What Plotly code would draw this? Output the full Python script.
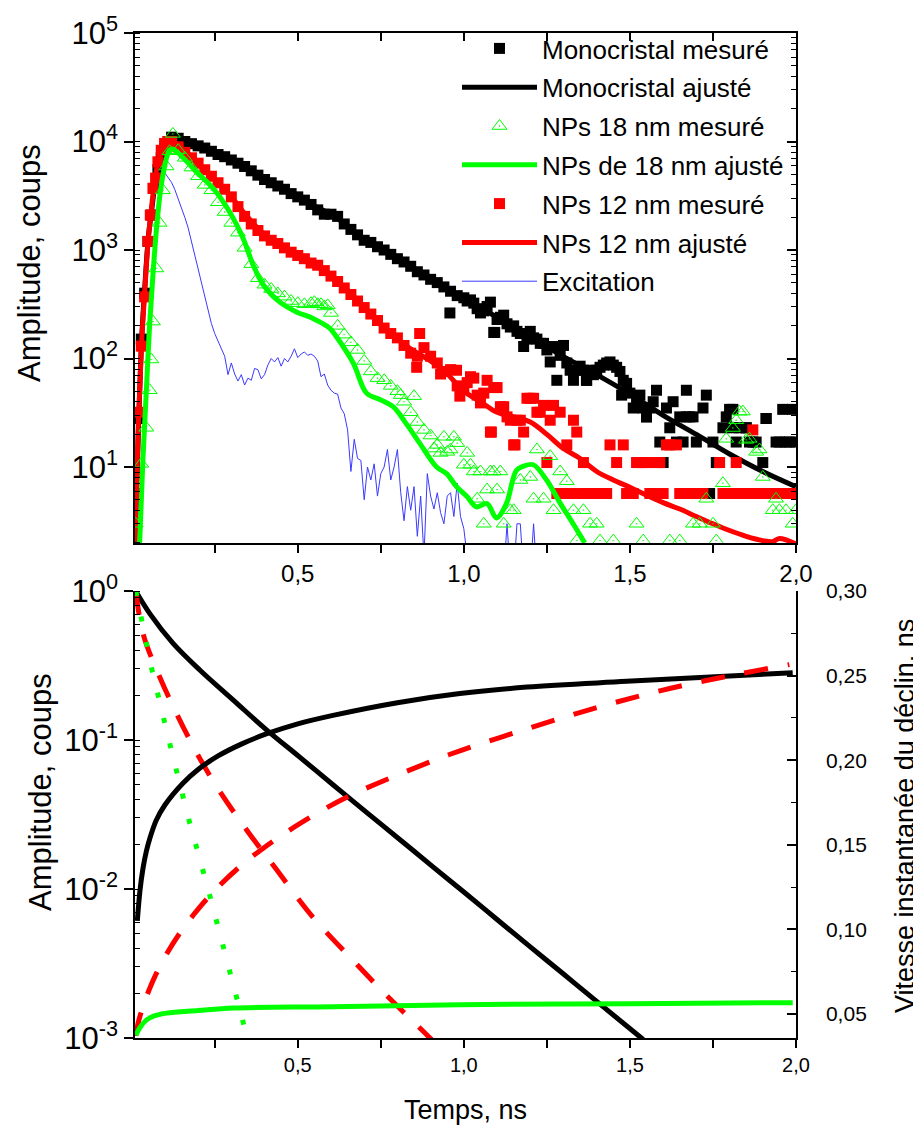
import plotly.graph_objects as go

FONT = "Liberation Sans, Arial, sans-serif"

# ---------------- TOP PANEL DATA (counts) ----------------
# rising edge samples
mono_rise_t = [0.014, 0.021, 0.029, 0.039, 0.049, 0.059, 0.066, 0.079, 0.089, 0.10, 0.11]
mono_rise_y = [5.7, 28, 151, 400, 1200, 2100, 3700, 5500, 7100, 8700, 10000]
np12_rise_t = [0.012, 0.021, 0.029, 0.039, 0.049, 0.056, 0.064, 0.072, 0.079, 0.089, 0.099, 0.109]
np12_rise_y = [5.3, 32, 130, 370, 1200, 2100, 3700, 4600, 6500, 8300, 9600, 10000]
np18_rise_t = [0.012, 0.029, 0.044, 0.054, 0.059, 0.064, 0.074, 0.084, 0.094, 0.105, 0.114, 0.124]
np18_rise_y = [3.0, 10.7, 23, 51, 98, 219, 676, 1778, 3548, 5888, 8128, 11749]

# main decay, t = 0.12 ... 0.98 (step 0.02)
main_t = [round(0.12 + 0.02 * i, 2) for i in range(44)]
mono_main_y = [10965, 10715, 10000, 9550, 9120, 8710, 8128, 7586, 7244, 6761,
               6310, 5888, 5370, 4898, 4467, 4169, 3890, 3631, 3311, 3090,
               2884, 2630, 2344, 2138, 2138, 2042, 1738, 1549, 1380, 1230,
               1175, 1072, 1000, 912, 832, 776, 708, 631, 589, 537,
               501, 457, 417, 380]
np12_main_y = [10000, 8913, 7943, 7079, 6310, 5495, 4786, 4169, 3631, 3090,
               2512, 2042, 1738, 1514, 1349, 1230, 1148, 1047, 955, 891,
               832, 759, 724, 646, 575, 513, 447, 389, 339, 295,
               257, 224, 191, 170, 155, 132, 112, 105, 126, 105,
               91, 76, 79, 56]
np18_main_y = [None, 8318, 7079, 5754, 4786, 3981, 3548, 2754, 2239, 1778,
               1445, 1047, 741, 550, 479, 437, 398, 372, 339, 324,
               316, 324, 316, 302, 263, 200, 166, 141, 120, 95,
               76, 66, 63, 56, 50, 40, 32, 26, 22, 19.5,
               16, 19, 14.5, 16.6]

# tail, t = 1.00 ... 2.00 (step 0.01)
tail_t = [round(1.0 + 0.01 * i, 2) for i in range(101)]
mono_tail_y = [363, 339, 347, 324, 288, 263, 275, 302, 331, 174,
               229, 240, 251, 209, 195, 200, 178, 170, 129, 151,
               178, 155, 151, 138, 138, 120, 93, 129, 63, 107,
               132, 91, 78, 63, 78, 85, 78, 63, 78, 71,
               78, 83, 87, 91, 93, 87, 83, 76, 63, 59,
               48, 35, 40, 46, 35, 29, 35, 40, 51, 17,
               11, 35, 23, 40, 17, 29, 17, 51, 29, 29,
               17, 5.7, 35, 46, 5.7, 17, 11, None, 23, 29,
               34, 23, 17, 23, 5.7, 23, 17, 17, 17, None,
               11, 28, 5.7, None, 17, 17, 34, 17, 17, 34, 17]
np12_tail_y = [55, 60, 68, 66, 46, 39, 48, 63, 21, 54,
               54, 36, 36, 29, 27, 16, 27, 27, 21, 43,
               43, 43, 32, 32, 37, 11, 27, 37, 5.7, 32,
               5.7, 16, 5.7, 27, 21, 5.7, 11, 5.7, 5.7, 5.7,
               5.7, 5.7, 5.7, 5.7, 16, None, 11, None, 16, 5.7,
               5.7, 5.7, 11, 11, 11, 11, 5.7, 5.7, 11, 11,
               5.7, 16, 16, None, 16, 5.7, 5.7, 5.7, 5.7, 5.7,
               5.7, 5.7, 5.7, None, None, None, None, 11, 5.7, 5.7,
               5.7, 5.7, 11, 5.7, 5.7, 5.7, 5.7, 22, 5.7, 5.7,
               5.7, 5.7, 5.7, 5.7, 5.7, 5.7, 5.7, 5.7, 5.7, 5.7, None]
np18_tail_y = [10.5, 13.5, 10.5, 9.1, 5.1, 9.1, 3.0, 6.2, 9.1, 9.1,
               6.2, 9.1, 3.0, None, 4.0, 4.0, None, 7.6, None, None,
               8.1, 5.1, 14.5, None, 5.1, None, 12.6, 4.0, None, 9.1,
               None, 7.4, None, 4.0, 2.1, None, 4.0, None, 3.0, None,
               3.0, 2.1, None, None, None, 2.1, None, None, None, None,
               None, None, 3.0, None, 2.1, None, None, None, None, None,
               None, None, 2.1, None, None, 2.1, None, None, None, 3.0,
               None, 3.0, None, 5.1, None, 3.0, 2.1, None, 7.1, 18.2,
               None, 22.9, 27, 32.4, 32.4, 17.8, 18.2, None, 13.8, 14.5,
               8.1, None, None, 4.0, 5.1, 4.0, None, 4.0, None, 3.0, 4.0]

# additional scattered points
mono_extra_t = [0.958, 1.093, 1.369, 1.475, 1.55, 1.67, 1.81, 1.85, 1.91]
mono_extra_y = [263, 174, 63, 46, 29, 29, 34, 23, 28]
np12_extra_t = [0.858, 0.867, 0.93, 0.978, 0.988, 1.083, 1.154]
np12_extra_y = [83, 170, 72, 78, 45, 21, 16]
np18_extra_t = [0.55, 0.57, 0.59, 0.81, 0.85, 0.91, 0.93, 0.95, 0.97]
np18_extra_y = [331, 316, 309, 46, 45, 14.8, 13.5, 13.8, 19]

# fitted curves
mono_fit_t = [0.01, 0.02, 0.03, 0.04, 0.05, 0.06, 0.07, 0.08, 0.09, 0.10, 0.11, 0.12, 0.14, 0.17,
              0.2, 0.25, 0.3, 0.35, 0.4, 0.45, 0.5, 0.55, 0.6, 0.65, 0.7, 0.75, 0.8, 0.85, 0.9,
              0.95, 1.0, 1.1, 1.2, 1.3, 1.4, 1.5, 1.6, 1.7, 1.8, 1.9, 2.0]
mono_fit_y = [2, 20, 150, 480, 1300, 2300, 4000, 5800, 7400, 8900, 10000, 10700, 10500, 9800,
              9100, 7900, 6760, 5600, 4500, 3760, 3100, 2550, 2140, 1660, 1260, 1030, 830, 680, 550,
              440, 355, 240, 158, 104, 71, 47, 30, 20, 13.2, 9.1, 6.6]
np12_fit_t = [0.01, 0.02, 0.03, 0.04, 0.05, 0.06, 0.07, 0.08, 0.09, 0.10, 0.12, 0.15, 0.2, 0.25,
              0.3, 0.35, 0.4, 0.45, 0.5, 0.55, 0.6, 0.65, 0.7, 0.75, 0.8, 0.85, 0.9, 0.95, 1.0,
              1.05, 1.1, 1.15, 1.2, 1.25, 1.3, 1.35, 1.4, 1.45, 1.5, 1.55, 1.6, 1.65, 1.7, 1.75,
              1.8, 1.85, 1.9, 1.93, 1.95, 2.0]
np12_fit_y = [2.0, 25, 141, 447, 1259, 2512, 4467, 6607, 8511, 9550, 10000, 8710, 6310, 4467,
              3090, 1995, 1380, 1096, 891, 741, 575, 427, 295, 204, 151, 117, 95, 72, 50,
              40, 32, 29, 26, 20, 14.8, 12, 9.1, 7.6, 6.5, 5.5, 4.7, 4.1, 3.5, 3.0,
              2.6, 2.3, 2.1, 2.05, 2.2, 1.95]
np18_fit_t = [0.024, 0.034, 0.044, 0.054, 0.064, 0.074, 0.084, 0.094, 0.105, 0.114, 0.125, 0.155,
              0.195, 0.245, 0.295, 0.335, 0.366, 0.396, 0.446, 0.496, 0.546, 0.596, 0.617, 0.667,
              0.707, 0.747, 0.787, 0.827, 0.867, 0.918, 0.948, 0.978, 1.008, 1.038, 1.07, 1.098,
              1.128, 1.158, 1.18, 1.209, 1.249, 1.289, 1.329, 1.364]
np18_fit_y = [2.0, 12, 49, 204, 589, 1479, 3020, 4898, 7079, 8318, 8511, 7079,
              5248, 3715, 2239, 1288, 724, 479, 331, 269, 234, 191, 158, 91,
              48, 42, 36, 25, 16.6, 10, 8.7, 6.6, 5.4, 4.3, 4.6, 3.4,
              4.6, 9.3, 10.2, 10.5, 7.6, 4.7, 3.0, 2.0]

# excitation pulse, t = 0.01 ... 1.22 (step 0.01)
exc_t = [round(0.01 * (i + 1), 2) for i in range(122)]
exc_y = [2.5, 25, 160, 500, 1260, 2240, 3550, 4790, 5250, 5130,
         4680, 4200, 3600, 3000, 2500, 2000, 1600, 1200, 900, 660,
         500, 360, 270, 210, 170, 145, 125, 105, 71, 91,
         72, 62, 71, 57, 66, 63, 81, 79, 65, 71,
         87, 100, 93, 102, 85, 100, 93, 105, 123, 102,
         110, 115, 107, 110, 105, 95, 68, 72, 57, 51,
         48, 47, 35, 31, 22, 9.1, 18, 12, 11.5, 5.0,
         10, 7.6, 10.7, 5.4, 8.7, 10, 14.5, 7.6, 10, 14.5,
         5.8, 3.2, 6.6, 4.0, 6.6, 2.3, 5.4, 1.5, 8.7, 5.4,
         4.1, 5.8, 3.8, 3.0, 5.4, 5.8, 3.5, 7.1, 3.5, 2.7,
         1.5, 1, 1, 1, 1, 1, 1, 1, 1, 1,
         1, 1, 3.0, 1, 1, 3.0, 3.0, 1, 1, 1,
         3.0, 1]

top_tickvals = [10, 100, 1000, 10000, 100000]
top_ticktext = ["10<sup>1</sup>", "10<sup>2</sup>", "10<sup>3</sup>", "10<sup>4</sup>", "10<sup>5</sup>"]

# ---------------- BOTTOM PANEL DATA ----------------
mono_amp_t = [0.012, 0.054, 0.124, 0.205, 0.305, 0.405, 0.506, 0.606, 0.707, 0.807, 0.908, 1.0,
              1.1, 1.2, 1.3, 1.4, 1.54]
mono_amp_y = [1.0, 0.708, 0.447, 0.295, 0.186, 0.1175, 0.0767, 0.0501, 0.0327, 0.0215, 0.01403,
              0.00955, 0.00624, 0.00409, 0.00269, 0.00176, 0.000977]
np12_amp_t = [0.0125, 0.034, 0.084, 0.175, 0.255, 0.345, 0.436, 0.546, 0.667, 0.757, 0.898, 0.92]
np12_amp_y = [1.0, 0.52, 0.266, 0.1, 0.049, 0.0251, 0.0135, 0.00646, 0.00331, 0.00204, 0.001, 0.00089]
np18_amp_t = [0.0125, 0.058, 0.112, 0.169, 0.23, 0.289, 0.348]
np18_amp_y = [1.0, 0.316, 0.1, 0.0309, 0.01, 0.00316, 0.001]

mono_rate_t = [0.017, 0.025, 0.034, 0.044, 0.055, 0.074, 0.1, 0.155, 0.2, 0.26, 0.33, 0.405, 0.5,
               0.606, 0.8, 0.988, 1.19, 1.49, 1.99]
mono_rate_y = [0.105, 0.123, 0.136, 0.146, 0.154, 0.1645, 0.1735, 0.1865, 0.1945, 0.2025, 0.2095,
               0.2155, 0.2215, 0.2265, 0.234, 0.2394, 0.2432, 0.2466, 0.2517]
np12_rate_t = [0.012, 0.019, 0.034, 0.044, 0.069, 0.104, 0.144, 0.2, 0.255, 0.325, 0.386, 0.506,
               0.657, 0.918, 0.988, 1.189, 1.39, 1.59, 1.79, 1.98]
np12_rate_y = [0.037, 0.0443, 0.0545, 0.060, 0.0718, 0.085, 0.0975, 0.112, 0.124, 0.137, 0.1465,
               0.1625, 0.179, 0.2005, 0.2055, 0.2185, 0.2305, 0.241, 0.2495, 0.2565]
np18_rate_t = [0.0125, 0.025, 0.045, 0.07, 0.105, 0.2, 0.305, 0.606, 0.988, 1.5, 1.99]
np18_rate_y = [0.0374, 0.042, 0.0465, 0.049, 0.0505, 0.052, 0.0535, 0.0543, 0.0555, 0.0561, 0.0567]

bot_tickvals = [1, 0.1, 0.01, 0.001]
bot_ticktext = ["10<sup>0</sup>", "10<sup>-1</sup>", "10<sup>-2</sup>", "10<sup>-3</sup>"]

# ---------------- FIGURE ----------------
BLACK, RED, GREEN, BLUE = "#000000", "#ff0000", "#00ff00", "#3a3aff"

fig = go.Figure()


def meas(rt, ry, my_, ty, xt, xy):
    return rt + main_t + tail_t + xt, ry + my_ + ty + xy


fig.add_trace(go.Scatter(x=exc_t, y=exc_y, mode="lines", name="Excitation",
                         line=dict(color=BLUE, width=1), legendgroup="g7", legendrank=7,
                         xaxis="x", yaxis="y"))
mx, my = meas(mono_rise_t, mono_rise_y, mono_main_y, mono_tail_y, mono_extra_t, mono_extra_y)
fig.add_trace(go.Scatter(x=mx, y=my, mode="markers", name="Monocristal mesuré",
                         marker=dict(symbol="square", size=11, color=BLACK, line=dict(width=0)),
                         legendgroup="g1", legendrank=1, xaxis="x", yaxis="y"))
fig.add_trace(go.Scatter(x=mono_fit_t, y=mono_fit_y, mode="lines", name="Monocristal ajusté",
                         line=dict(color=BLACK, width=5, shape="spline"),
                         legendgroup="g2", legendrank=2, xaxis="x", yaxis="y"))
rx, ry = meas(np12_rise_t, np12_rise_y, np12_main_y, np12_tail_y, np12_extra_t, np12_extra_y)
fig.add_trace(go.Scatter(x=rx, y=ry, mode="markers", name="NPs 12 nm mesuré",
                         marker=dict(symbol="square", size=11, color=RED, line=dict(width=0)),
                         legendgroup="g5", legendrank=5, xaxis="x", yaxis="y"))
fig.add_trace(go.Scatter(x=np12_fit_t, y=np12_fit_y, mode="lines", name="NPs 12 nm ajusté",
                         line=dict(color=RED, width=5, shape="spline"),
                         legendgroup="g6", legendrank=6, xaxis="x", yaxis="y"))
gx, gy = meas(np18_rise_t, np18_rise_y, np18_main_y, np18_tail_y, np18_extra_t, np18_extra_y)
fig.add_trace(go.Scatter(x=gx, y=gy, mode="markers", name="NPs 18 nm mesuré",
                         marker=dict(symbol="triangle-up-open-dot", size=13, color=GREEN,
                                     line=dict(width=1, color=GREEN)),
                         legendgroup="g3", legendrank=3, xaxis="x", yaxis="y"))
fig.add_trace(go.Scatter(x=np18_fit_t, y=np18_fit_y, mode="lines", name="NPs de 18 nm ajusté",
                         line=dict(color=GREEN, width=5, shape="spline"),
                         legendgroup="g4", legendrank=4, xaxis="x", yaxis="y"))

# dummy traces to activate mirror axes of the top panel
fig.add_trace(go.Scatter(x=[None], y=[None], xaxis="x3", yaxis="y", showlegend=False, hoverinfo="skip"))
fig.add_trace(go.Scatter(x=[None], y=[None], xaxis="x", yaxis="y4", showlegend=False, hoverinfo="skip"))

# bottom panel
fig.add_trace(go.Scatter(x=mono_amp_t, y=mono_amp_y, mode="lines", showlegend=False,
                         line=dict(color=BLACK, width=5, shape="spline"), xaxis="x2", yaxis="y2"))
fig.add_trace(go.Scatter(x=np12_amp_t, y=np12_amp_y, mode="lines", showlegend=False,
                         line=dict(color=RED, width=5, shape="spline", dash="24px,20px"),
                         xaxis="x2", yaxis="y2"))
fig.add_trace(go.Scatter(x=np18_amp_t, y=np18_amp_y, mode="lines", showlegend=False,
                         line=dict(color=GREEN, width=5, dash="5px,21px"), xaxis="x2", yaxis="y2"))
fig.add_trace(go.Scatter(x=mono_rate_t, y=mono_rate_y, mode="lines", showlegend=False,
                         line=dict(color=BLACK, width=5, shape="spline"), xaxis="x2", yaxis="y3"))
fig.add_trace(go.Scatter(x=np12_rate_t, y=np12_rate_y, mode="lines", showlegend=False,
                         line=dict(color=RED, width=5, shape="spline", dash="24px,20px"),
                         xaxis="x2", yaxis="y3"))
fig.add_trace(go.Scatter(x=np18_rate_t, y=np18_rate_y, mode="lines", showlegend=False,
                         line=dict(color=GREEN, width=5, shape="spline"), xaxis="x2", yaxis="y3"))

# page body has an 8 px margin: the figure is sized to fit the 921x1130 window
OFF = 8
W, H = 921 - OFF, 1130 - OFF


def fx(px):
    return (px - OFF) / W


def fy(py):
    return 1 - (py - OFF) / H


XD = [fx(135), fx(796)]
TOPD = [fy(543), fy(33)]
BOTD = [fy(1038), fy(591)]

ax_common = dict(showgrid=False, zeroline=False, showline=True, linecolor="black", linewidth=1.5,
                 tickcolor="black", tickwidth=1.5, automargin=False)


def xminor(kind):
    return dict(dtick=0.25, tick0=0, ticks=kind, ticklen=8, tickwidth=1.5, tickcolor="black", showgrid=False)


def logminor():
    return dict(dtick="D1", ticks="inside", ticklen=5, tickwidth=1.2, tickcolor="black", showgrid=False)


fig.update_layout(
    width=W, height=H, autosize=False,
    margin=dict(l=0, r=0, t=0, b=0, pad=0, autoexpand=False),
    paper_bgcolor="white", plot_bgcolor="rgba(0,0,0,0)",
    separators=", ",
    font=dict(family=FONT, color="black"),
    showlegend=True,
    legend=dict(x=fx(457), y=fy(25), xanchor="left", yanchor="top",
                font=dict(size=26, family=FONT, color="black"),
                itemwidth=75, bgcolor="rgba(0,0,0,0)", traceorder="grouped", tracegroupgap=2,
                borderwidth=0),
    xaxis=dict(domain=XD, anchor="y", range=[0.01, 2.0], tick0=0, dtick=0.5, tickformat=".1f",
               ticks="outside", ticklen=8, tickfont=dict(size=24, family=FONT, color="black"),
               minor=xminor("outside"), **ax_common),
    xaxis3=dict(overlaying="x", side="top", anchor="y", range=[0.01, 2.0], tick0=0, dtick=0.5,
                ticks="inside", ticklen=8, showticklabels=False, minor=xminor("inside"), **ax_common),
    yaxis=dict(domain=TOPD, anchor="x", type="log", range=[0.3, 5], tickmode="array",
               tickvals=top_tickvals, ticktext=top_ticktext,
               ticks="outside", ticklen=9, tickfont=dict(size=31, family=FONT, color="black"),
               minor=logminor(), **ax_common),
    yaxis4=dict(overlaying="y", side="right", anchor="x", type="log", range=[0.3, 5], dtick=1,
                ticks="inside", ticklen=9, showticklabels=False, minor=logminor(), **ax_common),
    xaxis2=dict(domain=XD, anchor="y2", range=[0.01, 2.0], tick0=0, dtick=0.5, tickformat=".1f",
                ticks="outside", ticklen=8, tickfont=dict(size=20, family=FONT, color="black"),
                minor=xminor("outside"), **ax_common),
    yaxis2=dict(domain=BOTD, anchor="x2", type="log", range=[-3, 0], tickmode="array",
                tickvals=bot_tickvals, ticktext=bot_ticktext,
                ticks="outside", ticklen=9, tickfont=dict(size=31, family=FONT, color="black"),
                minor=logminor(), **ax_common),
    yaxis3=dict(overlaying="y2", side="right", anchor="x2", range=[0.0358, 0.30], tick0=0, dtick=0.05,
                tickformat=".2f", ticks="inside", ticklen=9, ticklabelstandoff=24,
                tickfont=dict(size=21, family=FONT, color="black"),
                minor=dict(dtick=0.025, tick0=0, ticks="inside", ticklen=5, tickwidth=1.2,
                           tickcolor="black", showgrid=False), **ax_common),
    annotations=[
        dict(text="Amplitude, coups", x=fx(29), y=fy(263), xref="paper", yref="paper",
             textangle=-90, showarrow=False, font=dict(size=31, family=FONT), xanchor="center",
             yanchor="middle"),
        dict(text="Amplitude, coups", x=fx(40), y=fy(792), xref="paper", yref="paper",
             textangle=-90, showarrow=False, font=dict(size=31, family=FONT), xanchor="center",
             yanchor="middle"),
        dict(text="Temps, ns", x=fx(465), y=fy(1110), xref="paper", yref="paper",
             showarrow=False, font=dict(size=27, family=FONT), xanchor="center", yanchor="middle"),
        dict(text="Vitesse instantanée du déclin, ns", x=fx(905), y=fy(816), xref="paper",
             yref="paper", textangle=-90, showarrow=False, font=dict(size=27, family=FONT),
             xanchor="center", yanchor="middle"),
    ],
)

fig.write_html("out.html")
